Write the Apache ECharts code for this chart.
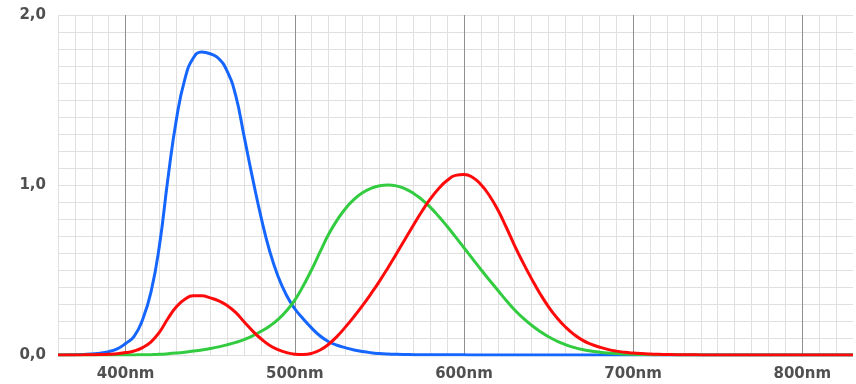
<!DOCTYPE html>
<html>
<head>
<meta charset="utf-8">
<script src="https://cdn.jsdelivr.net/npm/echarts@6/dist/echarts.min.js"></script>
<style>html,body{margin:0;padding:0;background:#fff}#c{width:856px;height:384px}</style>
</head>
<body>
<div id="c"></div>
<script>
// Wavelengths 360..830 nm, step 5
const wavelengths = [];
for (let w = 360; w <= 830; w += 5) wavelengths.push(w);

// red curve (x-bar)
const redValues = [0.000130,0.000232,0.000415,0.000742,0.001368,0.002236,0.004243,0.007650,0.014310,0.023190,
0.043510,0.077630,0.134380,0.214770,0.283900,0.328500,0.348280,0.348060,0.336200,0.318700,
0.290800,0.251100,0.195360,0.142100,0.095640,0.057950,0.032010,0.014700,0.004900,0.002400,
0.009300,0.029100,0.063270,0.109600,0.165500,0.225750,0.290400,0.359700,0.433450,0.512050,
0.594500,0.678400,0.762100,0.842500,0.916300,0.978600,1.026300,1.056700,1.062200,1.045600,
1.002600,0.938400,0.854450,0.751400,0.642400,0.541900,0.447900,0.360800,0.283500,0.218700,
0.164900,0.121200,0.087400,0.063600,0.046770,0.032900,0.022700,0.015840,0.011359,0.008111,
0.005790,0.004109,0.002899,0.002049,0.001440,0.001000,0.000690,0.000476,0.000332,0.000235,
0.000166,0.000117,0.000083,0.000059,0.000042,0.000030,0.000021,0.000015,0.000010,0.000007,
0.000005,0.000004,0.000003,0.000002,0.000001];

// green curve (y-bar)
const greenValues = [0.0000039,0.0000064,0.000012,0.000022,0.000039,0.000064,0.00012,0.000217,0.000396,0.00064,
0.00121,0.00218,0.004,0.0073,0.0116,0.01684,0.023,0.0298,0.038,0.048,
0.06,0.0739,0.09098,0.1126,0.13902,0.1693,0.20802,0.2586,0.323,0.4073,
0.503,0.6082,0.71,0.7932,0.862,0.91485,0.954,0.9803,0.99495,1.0,
0.995,0.9786,0.952,0.9154,0.87,0.8163,0.757,0.6949,0.631,0.5668,
0.503,0.4412,0.381,0.321,0.265,0.217,0.175,0.1382,0.107,0.0816,
0.061,0.04458,0.032,0.0232,0.017,0.01192,0.00821,0.005723,0.004102,0.002929,
0.002091,0.001484,0.001047,0.00074,0.00052,0.000361,0.000249,0.000172,0.00012,0.0000848,
0.00006,0.0000424,0.00003,0.0000212,0.000015,0.0000106,0.0000075,0.0000053,0.0000037,0.0000026,
0.0000018,0.0000013,0.0000009,0.0000006,0.0000004];

// blue curve (z-bar)
const blueValues = [0.000606,0.001086,0.001946,0.003486,0.00645,0.01055,0.02005,0.03621,0.06785,0.1102,
0.2074,0.3713,0.6456,1.03905,1.3856,1.62296,1.74706,1.7826,1.77211,1.7441,
1.6692,1.5281,1.28764,1.0419,0.81295,0.6162,0.46518,0.3533,0.272,0.2123,
0.1582,0.1117,0.07825,0.05725,0.04216,0.02984,0.0203,0.0134,0.00875,0.00575,
0.0039,0.00275,0.0021,0.0018,0.00165,0.0014,0.0011,0.001,0.0008,0.0006,
0.00034,0.00024,0.00019,0.0001,0.00005,0.00003,0.00002,0.00001,0,0,
0,0,0,0,0,0,0,0,0,0,
0,0,0,0,0,0,0,0,0,0,
0,0,0,0,0,0,0,0,0,0,
0,0,0,0,0];

const xTickLabels = [400, 500, 600, 700, 800];
const yTickLabels = [0, 1, 2];

const pair = vals => wavelengths.map((w, i) => [w, vals[i]]);
const light = '#e0e0e0', dark = '#8f8f8f';
const labelFont = { color: '#505050', fontSize: 15, fontWeight: 'bold', fontFamily: 'DejaVu Sans' };

const chart = echarts.init(document.getElementById('c'));
chart.setOption({
  animation: false,
  grid: { left: 58, right: 3, top: 15, bottom: 29, containLabel: false },
  xAxis: {
    type: 'value', min: 360, max: 830, interval: 10,
    axisLine: { show: false }, axisTick: { show: false },
    axisLabel: Object.assign({
      margin: 12,
      formatter: v => xTickLabels.indexOf(Math.round(v)) >= 0 ? Math.round(v) + 'nm' : ''
    }, labelFont),
    splitLine: { show: true, showMaxLine: false,
      lineStyle: { width: 1, color: [light, light, light, light, dark, light, light, light, light, light] } }
  },
  yAxis: {
    type: 'value', min: 0, max: 2, interval: 0.1,
    axisLine: { show: false }, axisTick: { show: false },
    axisLabel: Object.assign({
      margin: 12,
      formatter: v => {
        const r = Math.round(v);
        return (Math.abs(v - r) < 1e-6 && yTickLabels.indexOf(r) >= 0) ? r.toFixed(1).replace('.', ',') : '';
      }
    }, labelFont),
    splitLine: { show: true, lineStyle: { width: 1, color: light } }
  },
  series: [
    { type: 'line', data: pair(blueValues), smooth: 0.5, symbol: 'none', z: 2,
      lineStyle: { color: '#1565ff', width: 3 } },
    { type: 'line', data: pair(greenValues), smooth: 0.5, symbol: 'none', z: 3,
      lineStyle: { color: '#33cc40', width: 3 } },
    { type: 'line', data: pair(redValues), smooth: 0.5, symbol: 'none', z: 4,
      lineStyle: { color: '#ff0a0a', width: 3 } }
  ]
});
</script>
</body>
</html>
